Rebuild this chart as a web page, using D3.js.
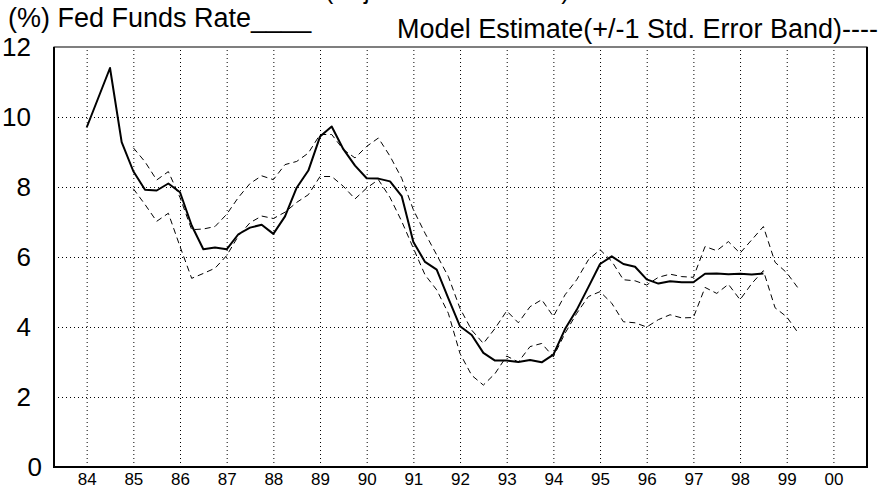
<!DOCTYPE html>
<html>
<head>
<meta charset="utf-8">
<script src="https://cdn.jsdelivr.net/npm/d3@7"></script>
<style>
  body { margin: 0; background: #fff; }
  text { font-family: "Liberation Sans", Arial, sans-serif; fill: #000; }
</style>
</head>
<body>
<svg id="chart"></svg>
<script>
// quarterly fed funds rate, 84Q1 .. 98Q3
const fedStart = 1984;
const fedFunds = [
  9.70, 10.55, 11.40, 9.28,
  8.45, 7.92, 7.90, 8.10,
  7.85, 6.90, 6.22, 6.27,
  6.22, 6.65, 6.84, 6.92,
  6.66, 7.16, 7.98, 8.47,
  9.44, 9.73, 9.08, 8.61,
  8.25, 8.24, 8.16, 7.74,
  6.43, 5.86, 5.64, 4.82,
  4.02, 3.77, 3.26, 3.04,
  3.04, 3.00, 3.06, 2.99,
  3.21, 3.94, 4.49, 5.14,
  5.80, 6.02, 5.80, 5.72,
  5.36, 5.24, 5.31, 5.28,
  5.28, 5.52, 5.53, 5.51,
  5.52, 5.50, 5.53
];

// model estimate +/- 1 std. error band, 85Q1 .. 99Q2
const bandStart = 1985;
const bandUpper = [
  9.12, 8.72, 8.20, 8.44,
  7.70, 6.78, 6.80, 6.87,
  7.22, 7.70, 8.10, 8.32,
  8.21, 8.64, 8.73, 8.97,
  9.50, 9.50, 9.07, 8.83,
  9.16, 9.40, 8.88, 8.25,
  7.35, 6.68, 6.06, 5.44,
  4.53, 3.91, 3.53, 3.96,
  4.46, 4.12, 4.58, 4.78,
  4.30, 4.92, 5.35, 5.92,
  6.21, 5.88, 5.35, 5.32,
  5.20, 5.42, 5.51, 5.44,
  5.42, 6.30, 6.18, 6.44,
  6.11, 6.49, 6.87, 5.85,
  5.55, 5.10
];
const bandLower = [
  7.95, 7.50, 7.02, 7.25,
  6.30, 5.39, 5.53, 5.68,
  6.04, 6.60, 6.98, 7.17,
  7.10, 7.28, 7.56, 7.78,
  8.30, 8.30, 8.02, 7.66,
  7.97, 8.21, 7.70, 7.02,
  6.25, 5.49, 5.06, 4.39,
  3.24, 2.62, 2.34, 2.67,
  3.17, 3.00, 3.44, 3.53,
  3.15, 3.82, 4.39, 4.87,
  5.01, 4.68, 4.15, 4.12,
  4.00, 4.21, 4.35, 4.26,
  4.27, 5.13, 4.96, 5.22,
  4.78, 5.24, 5.61, 4.55,
  4.29, 3.82
];

const yearTicks = d3.range(1984, 2001);
const yearLabels = ["84","85","86","87","88","89","90","91","92","93","94","95","96","97","98","99","00"];
const rateTicks = [0, 2, 4, 6, 8, 10, 12];

const margin = { top: 47, right: 15, bottom: 28, left: 54 };
const width = 882 - margin.left - margin.right;
const height = 495 - margin.top - margin.bottom;

const root = d3.select("#chart")
    .attr("width", 882)
    .attr("height", 495);

const svg = root.append("g")
    .attr("transform", `translate(${margin.left},${margin.top})`);

const x = d3.scaleLinear()
    .domain([1983.3, 2000.72])
    .range([0, width]);
const y = d3.scaleLinear()
    .domain([0, 12])
    .range([height, 0]);

// dotted grid
svg.append("g")
    .attr("class", "grid-x")
    .attr("transform", `translate(0,${height})`)
    .call(d3.axisBottom(x).tickValues(yearTicks).tickSize(-height).tickFormat(""))
    .call(g => g.select(".domain").remove());
svg.append("g")
    .attr("class", "grid-y")
    .call(d3.axisLeft(y).tickValues(rateTicks.filter(d => d > 0 && d < 12)).tickSize(-width).tickFormat(""))
    .call(g => g.select(".domain").remove());
svg.selectAll(".grid-x line, .grid-y line")
    .attr("stroke", "#000")
    .attr("stroke-width", 1)
    .attr("stroke-dasharray", "1,3");

// axis labels
svg.append("g")
    .attr("class", "x-axis")
    .attr("transform", `translate(0,${height})`)
    .call(d3.axisBottom(x).tickValues(yearTicks).tickSize(0).tickPadding(6)
        .tickFormat((d, i) => yearLabels[i]))
    .call(g => g.select(".domain").remove())
    .selectAll("text")
    .attr("font-size", 17)
    .attr("font-family", null);

const yAxis = svg.append("g")
    .attr("class", "y-axis")
    .call(d3.axisLeft(y).tickValues(rateTicks).tickSize(0).tickPadding(23))
    .call(g => g.select(".domain").remove());
yAxis.selectAll("text")
    .attr("font-size", 26)
    .attr("font-family", null)
    .attr("x", d => d === 0 ? -12 : -23);

// frame
svg.append("rect")
    .attr("width", width)
    .attr("height", height)
    .attr("fill", "none")
    .attr("stroke", "#000")
    .attr("stroke-width", 1);
svg.append("path")
    .attr("d", `M0,0V${height}H${width}V0`)
    .attr("fill", "none")
    .attr("stroke", "#000")
    .attr("stroke-width", 2);

// lines
const fedData = fedFunds.map((v, i) => ({ t: fedStart + i / 4, v }));
const upperData = bandUpper.map((v, i) => ({ t: bandStart + i / 4, v }));
const lowerData = bandLower.map((v, i) => ({ t: bandStart + i / 4, v }));

const line = d3.line()
    .x(d => x(d.t))
    .y(d => y(d.v));

[upperData, lowerData].forEach(data => {
    svg.append("path")
        .datum(data)
        .attr("d", line)
        .attr("fill", "none")
        .attr("stroke", "#000")
        .attr("stroke-width", 1)
        .attr("stroke-dasharray", "6,4");
});

svg.append("path")
    .datum(fedData)
    .attr("d", line)
    .attr("fill", "none")
    .attr("stroke", "#000")
    .attr("stroke-width", 2)
    .attr("stroke-linejoin", "round");

// titles (the top one is clipped by the page edge, as in the original)
root.append("text")
    .attr("x", 325)
    .attr("y", -1)
    .attr("font-size", 25)
    .text("(Adjusted for Inflation)");
root.append("text")
    .attr("x", 8)
    .attr("y", 27)
    .attr("font-size", 27)
    .text("(%) Fed Funds Rate____");
root.append("text")
    .attr("x", 878)
    .attr("y", 38)
    .attr("font-size", 27)
    .attr("text-anchor", "end")
    .text("Model Estimate(+/-1 Std. Error Band)----");
</script>
</body>
</html>
